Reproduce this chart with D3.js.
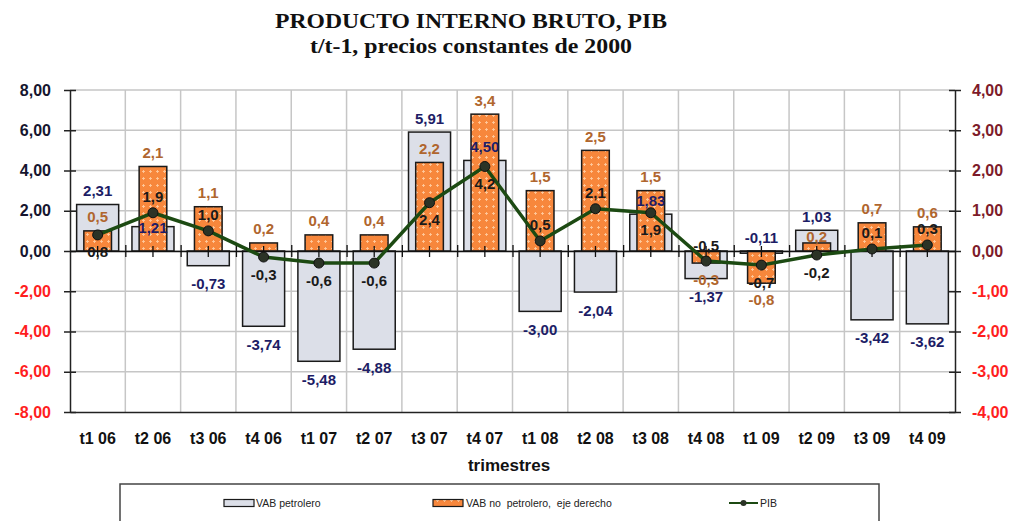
<!DOCTYPE html>
<html>
<head>
<meta charset="utf-8">
<script src="https://cdn.jsdelivr.net/npm/d3@7/dist/d3.min.js"></script>
<style>
  html, body { margin: 0; padding: 0; background: #ffffff; }
  svg { display: block; }
</style>
</head>
<body>
<svg id="chart" width="1019" height="521"></svg>
<script>
// Quarterly GDP growth (t/t-1), constant 2000 prices
const categories = ["t1 06", "t2 06", "t3 06", "t4 06", "t1 07", "t2 07", "t3 07", "t4 07",
                    "t1 08", "t2 08", "t3 08", "t4 08", "t1 09", "t2 09", "t3 09", "t4 09"];
const vabPetrolero   = [2.31, 1.21, -0.73, -3.74, -5.48, -4.88, 5.91, 4.50, -3.00, -2.04, 1.83, -1.37, -0.11, 1.03, -3.42, -3.62];
const vabNoPetrolero = [0.5, 2.1, 1.1, 0.2, 0.4, 0.4, 2.2, 3.4, 1.5, 2.5, 1.5, -0.3, -0.8, 0.2, 0.7, 0.6];
const pib            = [0.8, 1.9, 1.0, -0.3, -0.6, -0.6, 2.4, 4.2, 0.5, 2.1, 1.9, -0.5, -0.7, -0.2, 0.1, 0.3];
const leftTicks  = [-8, -6, -4, -2, 0, 2, 4, 6, 8];
const rightTicks = [-4, -3, -2, -1, 0, 1, 2, 3, 4];

// Where each value label sits relative to its mark
const petroleroLabelSide = ["above", "top", "below", "below", "below", "below", "above", "above",
                            "below", "below", "above", "below", "above", "above", "below", "below"];
const noPetroleroLabelSide = ["above", "above", "above", "above", "above", "above", "above", "above",
                              "above", "above", "above", "below", "below", "near", "above", "above"];
const pibLabelSide = ["below", "above", "above", "below", "below", "below", "below", "below",
                      "above", "above", "below", "above", "below", "below", "above", "above"];

const svg = d3.select("#chart");
const plot = { left: 70, right: 955, top: 90, bottom: 412 };

const locale = d3.formatLocale({ decimal: ",", thousands: ".", grouping: [3], currency: ["", ""], minus: "-" });
const f2 = locale.format(".2f");
const f1 = locale.format(".1f");

const x = d3.scaleBand().domain(categories).range([plot.left, plot.right]).paddingInner(0).paddingOuter(0);
const xEdge = d3.scaleLinear().domain([0, categories.length]).range([plot.left, plot.right]);
const yL = d3.scaleLinear().domain([-8, 8]).range([plot.bottom, plot.top]);
const yR = d3.scaleLinear().domain([-4, 4]).range([plot.bottom, plot.top]);

const sans = "'Liberation Sans', Arial, sans-serif";
const serif = "'Liberation Serif', 'Times New Roman', serif";

// Orange fill with a small light cross texture
const defs = svg.append("defs");
const pat = defs.append("pattern").attr("id", "orangeTex")
  .attr("patternUnits", "userSpaceOnUse").attr("width", 7).attr("height", 7);
pat.append("rect").attr("width", 7).attr("height", 7).attr("fill", "#f7873c");
pat.append("path").attr("d", "M3.5,2 V5 M2,3.5 H5").attr("stroke", "#ffc89c").attr("stroke-width", 0.9);

// Title
const title = svg.append("g").attr("font-family", serif).attr("font-weight", "bold").attr("fill", "#111")
  .attr("text-anchor", "middle");
title.append("text").attr("x", 471).attr("y", 28).attr("font-size", 22)
  .attr("textLength", 392).attr("lengthAdjust", "spacingAndGlyphs")
  .text("PRODUCTO INTERNO BRUTO, PIB");
title.append("text").attr("x", 471).attr("y", 53).attr("font-size", 22)
  .attr("textLength", 322).attr("lengthAdjust", "spacingAndGlyphs")
  .text("t/t-1, precios constantes de 2000");

// Gridlines
const grid = svg.append("g").attr("stroke", "#c6c6c6").attr("stroke-width", 1.5);
grid.selectAll("line.h").data(leftTicks.filter(d => d > -8)).join("line")
  .attr("x1", plot.left).attr("x2", plot.right)
  .attr("y1", d => yL(d)).attr("y2", d => yL(d));
grid.selectAll("line.v").data(d3.range(1, categories.length)).join("line")
  .attr("x1", d => xEdge(d)).attr("x2", d => xEdge(d))
  .attr("y1", plot.top).attr("y2", plot.bottom);

// VAB petrolero bars (left axis)
const gw = x.bandwidth() * 0.76;
svg.append("g").selectAll("rect").data(vabPetrolero).join("rect")
  .attr("x", (d, i) => x(categories[i]) + (x.bandwidth() - gw) / 2)
  .attr("y", d => yL(Math.max(0, d)))
  .attr("width", gw)
  .attr("height", d => Math.abs(yL(d) - yL(0)))
  .attr("fill", "#dcdfe8").attr("stroke", "#1a1a1a").attr("stroke-width", 1.5);

// VAB no petrolero bars (right axis)
const ow = x.bandwidth() * 0.5;
svg.append("g").selectAll("rect").data(vabNoPetrolero).join("rect")
  .attr("x", (d, i) => x(categories[i]) + (x.bandwidth() - ow) / 2)
  .attr("y", d => yR(Math.max(0, d)))
  .attr("width", ow)
  .attr("height", d => Math.abs(yR(d) - yR(0)))
  .attr("fill", "url(#orangeTex)").attr("stroke", "#1a1a1a").attr("stroke-width", 1.5);

// Left axis
const gL = svg.append("g").attr("transform", `translate(${plot.left},0)`)
  .call(d3.axisLeft(yL).tickValues(leftTicks).tickFormat(f2).tickSizeInner(6).tickSizeOuter(0).tickPadding(13));
gL.select(".domain").attr("stroke", "#222").attr("stroke-width", 1.5);
gL.selectAll(".tick line").attr("x1", 6).attr("x2", -6).attr("stroke", "#222").attr("stroke-width", 1.5);
gL.selectAll(".tick text").attr("font-family", sans).attr("font-weight", "bold").attr("font-size", 16)
  .attr("fill", d => d < 0 ? "#ff1e1e" : "#15152e");

// Right axis
const gR = svg.append("g").attr("transform", `translate(${plot.right},0)`)
  .call(d3.axisRight(yR).tickValues(rightTicks).tickFormat(f2).tickSizeInner(6).tickSizeOuter(0).tickPadding(11));
gR.select(".domain").attr("stroke", "#222").attr("stroke-width", 1.5);
gR.selectAll(".tick line").attr("x1", -6).attr("x2", 6).attr("stroke", "#222").attr("stroke-width", 1.5);
gR.selectAll(".tick text").attr("font-family", sans).attr("font-weight", "bold").attr("font-size", 16)
  .attr("fill", d => d < 0 ? "#ff1e1e" : "#7d1b2a");

// Category axis along the bottom of the plot
const gB = svg.append("g").attr("transform", `translate(0,${plot.bottom})`)
  .call(d3.axisBottom(x).tickSize(0).tickSizeOuter(0).tickPadding(21));
gB.select(".domain").attr("stroke", "#222").attr("stroke-width", 1.5);
gB.selectAll(".tick text").attr("font-family", sans).attr("font-weight", "bold").attr("font-size", 16)
  .attr("fill", "#111");

// Zero line with cross ticks at category edges and centres
const y0 = yL(0);
const gZ = svg.append("g").attr("transform", `translate(0,${y0})`)
  .call(d3.axisBottom(xEdge).tickValues(d3.range(1, categories.length)).tickFormat("").tickSizeOuter(0).tickSizeInner(6));
gZ.select(".domain").attr("stroke", "#111").attr("stroke-width", 1.5);
gZ.selectAll(".tick line").attr("y1", -6).attr("y2", 6).attr("stroke", "#111").attr("stroke-width", 1.3);
const gZ2 = svg.append("g").attr("transform", `translate(0,${y0})`)
  .call(d3.axisBottom(x).tickFormat("").tickSizeOuter(0).tickSizeInner(6));
gZ2.select(".domain").remove();
gZ2.selectAll(".tick line").attr("y1", -5).attr("y2", 6).attr("stroke", "#111").attr("stroke-width", 1.3);

// PIB line (left axis)
const cx = i => x(categories[i]) + x.bandwidth() / 2;
const line = d3.line().x((d, i) => cx(i)).y(d => yL(d));
svg.append("path").datum(pib).attr("d", line)
  .attr("fill", "none").attr("stroke", "#1c4a12").attr("stroke-width", 3.5).attr("stroke-linejoin", "round");
svg.append("g").selectAll("circle").data(pib).join("circle")
  .attr("cx", (d, i) => cx(i)).attr("cy", d => yL(d)).attr("r", 5)
  .attr("fill", "#2b3326").attr("stroke", "#111").attr("stroke-width", 1);

// Value labels
const labels = svg.append("g").attr("font-family", sans).attr("font-weight", "bold").attr("font-size", 15)
  .attr("text-anchor", "middle").attr("dominant-baseline", "central");

labels.append("g").selectAll("text").data(vabPetrolero).join("text")
  .attr("x", (d, i) => cx(i))
  .attr("y", (d, i) => {
    const side = petroleroLabelSide[i];
    if (side === "top") return yL(Math.max(0, d)) + 1;
    if (side === "above") return yL(Math.max(0, d)) - 14;
    return yL(Math.min(0, d)) + 18;
  })
  .attr("fill", "#1d1d66").text(d => f2(d));

labels.append("g").selectAll("text").data(vabNoPetrolero).join("text")
  .attr("x", (d, i) => cx(i))
  .attr("y", (d, i) => {
    const side = noPetroleroLabelSide[i];
    if (side === "near") return yR(Math.max(0, d)) - 6;
    if (side === "above") return yR(Math.max(0, d)) - 14;
    return yR(Math.min(0, d)) + 16;
  })
  .attr("fill", "#b0662e").text(d => f1(d));

labels.append("g").selectAll("text").data(pib).join("text")
  .attr("x", (d, i) => cx(i))
  .attr("y", (d, i) => pibLabelSide[i] === "above" ? yL(d) - 16 : yL(d) + 17)
  .attr("fill", "#1a1a1a").text(d => f1(d));

// Axis title
svg.append("text").attr("x", 509).attr("y", 471).attr("text-anchor", "middle")
  .attr("font-family", sans).attr("font-weight", "bold").attr("font-size", 17).attr("fill", "#111")
  .text("trimestres");

// Legend
const lg = svg.append("g");
lg.append("rect").attr("x", 120).attr("y", 484).attr("width", 759).attr("height", 60)
  .attr("fill", "#fff").attr("stroke", "#444").attr("stroke-width", 1.5);
const ly = 503;
lg.append("rect").attr("x", 224).attr("y", ly - 3.5).attr("width", 30).attr("height", 7)
  .attr("fill", "#dcdfe8").attr("stroke", "#1a1a1a").attr("stroke-width", 1.2);
lg.append("rect").attr("x", 433).attr("y", ly - 3.5).attr("width", 30).attr("height", 7)
  .attr("fill", "url(#orangeTex)").attr("stroke", "#1a1a1a").attr("stroke-width", 1.2);
lg.append("line").attr("x1", 729).attr("x2", 758).attr("y1", ly).attr("y2", ly)
  .attr("stroke", "#1c4a12").attr("stroke-width", 2);
lg.append("circle").attr("cx", 743.5).attr("cy", ly).attr("r", 3).attr("fill", "#2b3326");
const legendText = [
  { x: 256, t: "VAB petrolero" },
  { x: 466, t: "VAB no  petrolero,  eje derecho" },
  { x: 760, t: "PIB" }
];
lg.selectAll("text.lt").data(legendText).join("text")
  .attr("x", d => d.x).attr("y", ly).attr("dominant-baseline", "central")
  .attr("font-family", sans).attr("font-size", 10.5).attr("fill", "#222")
  .style("white-space", "pre").attr("xml:space", "preserve")
  .text(d => d.t);
</script>
</body>
</html>
